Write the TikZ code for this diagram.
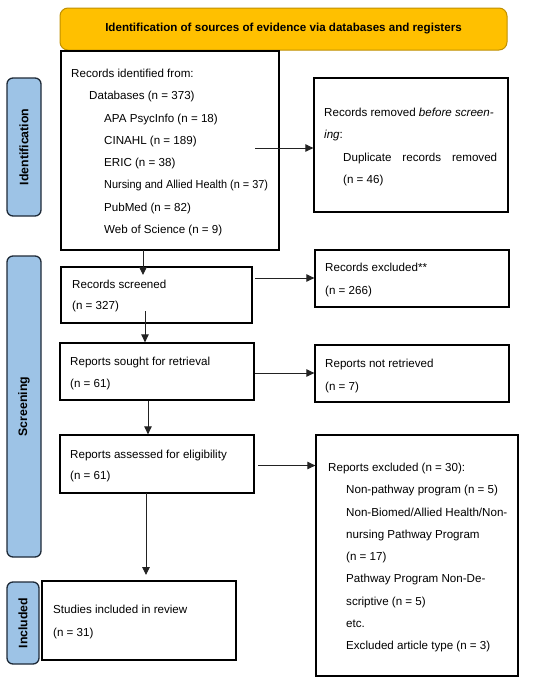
\documentclass[tikz,border=0pt]{standalone}
\usepackage{fontspec}
\usepackage{graphicx}
\setmainfont{Liberation Sans}
\usetikzlibrary{arrows.meta}
\definecolor{hdrfill}{HTML}{FFC000}
\definecolor{hdrdraw}{HTML}{C09000}
\definecolor{sidefill}{HTML}{9DC3E6}
\definecolor{sidedraw}{HTML}{1E2A38}
\definecolor{arrcol}{HTML}{222222}
\tikzset{
  box/.style={draw=black, line width=1.3pt, fill=white, inner sep=0pt, minimum width=#1},
  txt/.style={anchor=north west, inner sep=0pt, align=left, font=\fontsize{11.6}{22.3}\selectfont},
  side/.style={draw=sidedraw, line width=1.3pt, fill=sidefill, rounded corners=6pt, inner sep=0pt},
  sidetxt/.style={rotate=90, inner sep=0pt, font=\bfseries\fontsize{12.3}{14}\selectfont},
  hdr/.style={draw=hdrdraw, line width=1pt, fill=hdrfill, rounded corners=8pt, inner sep=0pt,
    font=\bfseries\fontsize{11.6}{14}\selectfont},
  arr/.style={draw=arrcol, line width=0.9pt, -{Triangle[length=8pt,width=7.5pt]}}
}
\newcommand{\ind}{\hspace*{18pt}}
\newcommand{\indd}{\hspace*{33pt}}
\begin{document}
\begin{tikzpicture}[x=1pt,y=-1pt]
\useasboundingbox (0,0) rectangle (550,681);
% header
\node[hdr, minimum width=447pt, minimum height=42pt] (header) at (283.5,29) {Identification of sources of evidence via databases and registers};
% side labels
\node[side, minimum width=34pt, minimum height=138pt] (sideid) at (24,147) {};
\node[sidetxt] (sideidt) at (sideid.center) {Identification};
\node[side, minimum width=34pt, minimum height=301pt] (sidesc) at (24,406.5) {};
\node[sidetxt] (sidesct) at (sidesc.center) {Screening};
\node[side, minimum width=32pt, minimum height=82pt] (sidein) at (23,623) {};
\node[sidetxt] (sideint) at (sidein.center) {Included};
% boxes
\node[box=218pt, minimum height=199pt] (idbox) at (170,150.5) {};
\node[box=194pt, minimum height=134pt] (removed) at (411,145) {};
\node[box=191pt, minimum height=56pt] (screened) at (156.5,295) {};
\node[box=194pt, minimum height=57pt] (excluded) at (412,278.5) {};
\node[box=194pt, minimum height=57pt] (sought) at (157,371.5) {};
\node[box=194pt, minimum height=57pt] (notret) at (412,373.5) {};
\node[box=194pt, minimum height=58pt] (assessed) at (157,464) {};
\node[box=202pt, minimum height=241pt] (repexcl) at (417,555.5) {};
\node[box=194pt, minimum height=79pt] (included) at (139,620.5) {};
% texts
\node[txt] (idtxt) at (71,68.8) {Records identified from:\\
\ind Databases (n = 373)\\
\indd APA PsycInfo (n = 18)\\
\indd CINAHL (n = 189)\\
\indd ERIC (n = 38)\\
\indd \scalebox{0.94}[1]{Nursing and Allied Health (n = 37)}\\
\indd PubMed (n = 82)\\
\indd Web of Science (n = 9)};
\node[txt] (removedtxt) at (324,107.8) {Records removed \textit{before screen-}\\
\textit{ing}:\\
\hspace*{19pt}\makebox[154pt][s]{Duplicate records removed}\\
\hspace*{19pt}(n = 46)};
\node[txt, font=\fontsize{11.6}{21.5}\selectfont] (screenedtxt) at (72,279.8) {Records screened\\(n = 327)};
\node[txt, font=\fontsize{11.6}{23.5}\selectfont] (excludedtxt) at (325,262.8) {Records excluded**\\(n = 266)};
\node[txt] (soughttxt) at (70,356.8) {Reports sought for retrieval\\(n = 61)};
\node[txt, font=\fontsize{11.6}{23}\selectfont] (notrettxt) at (325,358.8) {Reports not retrieved\\(n = 7)};
\node[txt, font=\fontsize{11.6}{21.5}\selectfont] (assessedtxt) at (70,449.8) {Reports assessed for eligibility\\(n = 61)};
\node[txt] (repexcltxt) at (328,462.8) {Reports excluded (n = 30):\\
\ind Non-pathway program (n = 5)\\
\ind Non-Biomed/Allied Health/Non-\\
\ind nursing Pathway Program\\
\ind (n = 17)\\
\ind Pathway Program Non-De-\\
\ind scriptive (n = 5)\\
\ind etc.\\
\ind Excluded article type (n = 3)};
\node[txt, font=\fontsize{11.6}{23}\selectfont] (includedtxt) at (53,604.8) {Studies included in review\\(n = 31)};
% horizontal arrows
\coordinate (h1) at (255,148);
\draw[arr] (h1) -- (h1 -| removed.west);
\coordinate (h2) at (255,278);
\draw[arr] (h2) -- (h2 -| excluded.west);
\coordinate (h3) at (255,373);
\draw[arr] (h3) -- (h3 -| notret.west);
\coordinate (h4) at (258,465.5);
\draw[arr] (h4) -- (h4 -| repexcl.west);
% vertical arrows
\coordinate (v1) at (143,250);
\coordinate (v1e) at (143,275);
\draw[arr] (v1) -- (v1e);
\coordinate (v2) at (145,311);
\draw[arr] (v2) -- (v2 |- sought.north);
\coordinate (v3) at (148,401);
\draw[arr] (v3) -- (v3 |- assessed.north);
\coordinate (v4) at (146,493);
\coordinate (v4e) at (146,575);
\draw[arr] (v4) -- (v4e);
\end{tikzpicture}
\end{document}
